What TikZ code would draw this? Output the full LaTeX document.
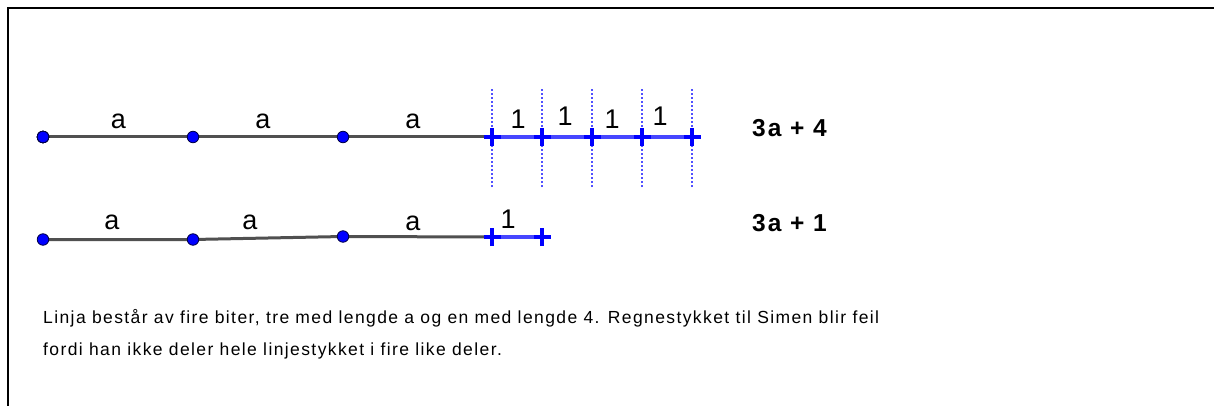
\documentclass[tikz,border=0pt]{standalone}
\usepackage{fontspec}
\setmainfont{Liberation Sans}
\newfontfamily\widesans[LetterSpace=8]{Liberation Sans}
\newfontfamily\widebold[LetterSpace=8]{Liberation Sans Bold}
\definecolor{seggray}{RGB}{80,80,80}
\definecolor{ptblue}{RGB}{0,0,255}
\definecolor{ptedge}{RGB}{0,0,70}
\definecolor{seglight}{RGB}{70,70,255}
\definecolor{guide}{RGB}{80,80,255}
\tikzset{
  frame/.style={line width=2pt, black},
  seg/.style={line width=3pt, seggray},
  useg/.style={line width=3.4pt, seglight},
  guideline/.style={line width=2pt, guide, dash pattern=on 2pt off 2pt},
  dot/.style={circle, fill=ptblue, draw=ptedge, line width=0.8pt, inner sep=0pt, minimum size=11.5pt},
  tickline/.style={line width=3.4pt, ptblue},
  lbl/.style={anchor=base, inner sep=0pt, font=\fontsize{27}{27}\selectfont},
  sum/.style={anchor=base west, inner sep=0pt, font=\fontsize{24.5}{24.5}\widebold},
  body/.style={anchor=base west, inner sep=0pt, font=\fontsize{17.5}{17.5}\widesans}
}
% cross-shaped mark at a coordinate
\newcommand\crossmark[1]{%
  \draw[tickline] ([xshift=-8.5pt]#1) -- ([xshift=8.5pt]#1);
  \draw[tickline] ([yshift=-9pt]#1) -- ([yshift=9pt]#1);}
\begin{document}
\begin{tikzpicture}[x=1pt, y=-1pt]
\useasboundingbox (0,0) rectangle (1214,406);
% frame
\draw[frame] (8,406) -- (8,8) -- (1214,8);

% ---- upper line: 3a + 4 ----
\coordinate (a0) at (43,137);
\coordinate (a1) at (193,137);
\coordinate (a2) at (343,137);
\foreach \i/\x in {0/492,1/542,2/592,3/642,4/692}
  \coordinate (u\i) at (\x,137);
\coordinate (uend) at (700,137);
\foreach \i in {0,...,4}
  \draw[guideline] ([yshift=-50pt]u\i) -- ([yshift=48pt]u\i);
\draw[seg] (a0) -- (a1) -- (a2) -- (u0);
\draw[useg] (u0) -- (uend);
\foreach \i in {0,...,4}
  \crossmark{u\i}
\node[dot] (A0) at (a0) {};
\node[dot] (A1) at (a1) {};
\node[dot] (A2) at (a2) {};
\node[lbl] (la1) at (118.5,129) {a};
\node[lbl] (la2) at (263,129) {a};
\node[lbl] (la3) at (413,129) {a};
\node[lbl] (lu1) at (518,129) {1};
\node[lbl] (lu2) at (565,126) {1};
\node[lbl] (lu3) at (612,129) {1};
\node[lbl] (lu4) at (660,126) {1};
\node[sum] (s1) at (752,137) {3a + 4};

% ---- lower line: 3a + 1 ----
\coordinate (b0) at (43,239.5);
\coordinate (b1) at (193,239.5);
\coordinate (b2) at (343,236.5);
\coordinate (v0) at (492,237);
\coordinate (v1) at (542,237);
\draw[seg] (b0) -- (b1) -- (b2) -- (v0);
\draw[useg] (v0) -- (v1);
\crossmark{v0}
\crossmark{v1}
\node[dot] (B0) at (b0) {};
\node[dot] (B1) at (b1) {};
\node[dot] (B2) at (b2) {};
\node[lbl] (lb1) at (112,229) {a};
\node[lbl] (lb2) at (250,229) {a};
\node[lbl] (lb3) at (413,230.5) {a};
\node[lbl] (lv1) at (508,228.5) {1};
\node[sum] (s2) at (752,231.5) {3a + 1};

% ---- explanation ----
\node[body] (t1) at (43,323.5) {Linja består av fire biter, tre med lengde a og en med lengde 4. Regnestykket til Simen blir feil};
\node[body] (t2) at (43,355.5) {fordi han ikke deler hele linjestykket i fire like deler.};
\end{tikzpicture}
\end{document}
